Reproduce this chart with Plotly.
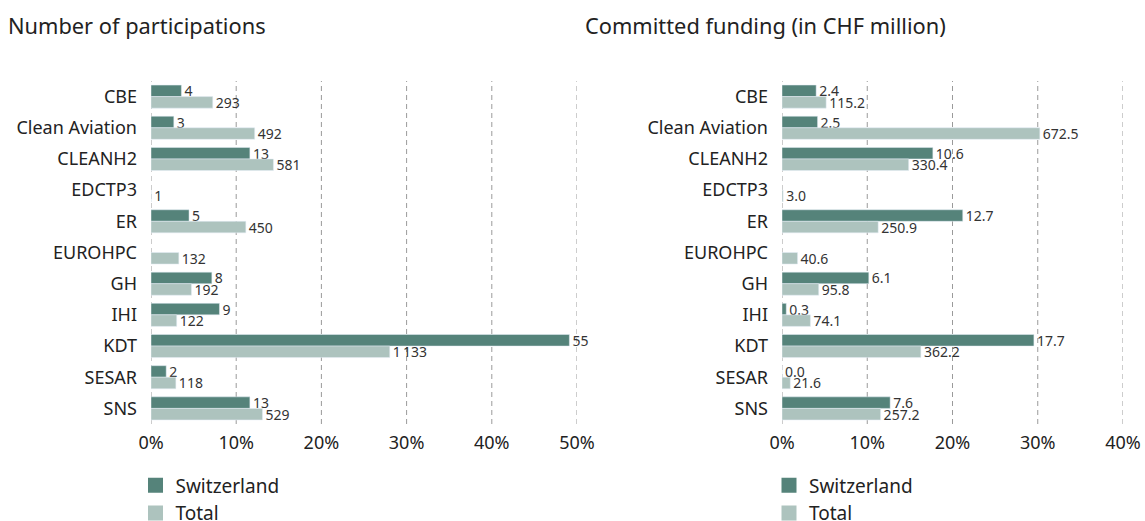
import plotly.graph_objects as go
from plotly.subplots import make_subplots

categories = ["CBE", "Clean Aviation", "CLEANH2", "EDCTP3", "ER", "EUROHPC", "GH", "IHI", "KDT", "SESAR", "SNS"]
participations_ch = [4, 3, 13, None, 5, None, 8, 9, 55, 2, 13]
participations_total = [293, 492, 581, 1, 450, 132, 192, 122, 1133, 118, 529]
funding_ch = [2.4, 2.5, 10.6, None, 12.7, None, 6.1, 0.3, 17.7, 0.0, 7.6]
funding_total = [115.2, 672.5, 330.4, 3.0, 250.9, 40.6, 95.8, 74.1, 362.2, 21.6, 257.2]
grid_ticks_left = [0, 0.1, 0.2, 0.3, 0.4, 0.5]
grid_ticks_right = [0, 0.1, 0.2, 0.3, 0.4]

C_CH = "#55837a"
C_TOT = "#adc3be"
W = 1145
H = 521
PLOT_TOP = 81
PLOT_BOT = 424
FONT = "Noto Sans"


def px(p):
    return p / W


def shares(vals):
    s = sum(v for v in vals if v is not None)
    return [None if v is None else v / s for v in vals]


def fmt_int(v):
    return "" if v is None else f"{v:,}".replace(",", "\u2009")


def fmt_1(v):
    return "" if v is None else f"{v:.1f}"


fig = make_subplots(rows=1, cols=2)

txtfont = dict(family=FONT, size=14, color="#333333")


def bar(x, text, color):
    return go.Bar(y=categories, x=x, orientation="h", marker_color=color,
                  text=text, textposition="outside", textfont=txtfont, cliponaxis=False,
                  constraintext="none", showlegend=False, hoverinfo="skip")


def legend_item(name, color, legend):
    return go.Scatter(x=[None], y=[None], mode="markers", name=name, legend=legend,
                      marker=dict(symbol="square", size=15, color=color), hoverinfo="skip")


fig.add_trace(bar(shares(participations_ch), [fmt_int(v) for v in participations_ch], C_CH), row=1, col=1)
fig.add_trace(bar(shares(participations_total), [fmt_int(v) for v in participations_total], C_TOT), row=1, col=1)
fig.add_trace(bar(shares(funding_ch), [fmt_1(v) for v in funding_ch], C_CH), row=1, col=2)
fig.add_trace(bar(shares(funding_total), [fmt_1(v) for v in funding_total], C_TOT), row=1, col=2)
fig.add_trace(legend_item("Switzerland", C_CH, "legend"), row=1, col=1)
fig.add_trace(legend_item("Total", C_TOT, "legend"), row=1, col=1)
fig.add_trace(legend_item("Switzerland", C_CH, "legend2"), row=1, col=2)
fig.add_trace(legend_item("Total", C_TOT, "legend2"), row=1, col=2)

xcommon = dict(tickformat=".0%", showgrid=False, zeroline=False,
               showline=False, ticks="", ticklabelstandoff=6,
               tickfont=dict(family=FONT, size=18, color="#222222"))
fig.update_xaxes(range=[0, 0.5], domain=[px(151), px(577)], tickvals=grid_ticks_left,
                 row=1, col=1, **xcommon)
fig.update_xaxes(range=[0, 0.4], domain=[px(782), px(1123)], tickvals=grid_ticks_right,
                 row=1, col=2, **xcommon)
fig.update_yaxes(autorange="reversed", showgrid=False, zeroline=False, showline=False, ticks="",
                 ticklabelstandoff=13, automargin=False,
                 tickfont=dict(family=FONT, size=18, color="#222222"))

shapes = []
for xref, ticks in (("x", grid_ticks_left), ("x2", grid_ticks_right)):
    for t in ticks:
        shapes.append(dict(type="line", xref=xref, yref="paper", x0=t, x1=t, y0=0, y1=1,
                           layer="below", line=dict(color="#9a9a9a", width=1, dash="5px,4px")))

ph = PLOT_BOT - PLOT_TOP


def py(p):
    return (PLOT_BOT - p) / ph


legend_common = dict(orientation="v", yanchor="top", xanchor="left", y=py(466.5),
                     font=dict(family=FONT, size=19, color="#222222"),
                     bgcolor="rgba(0,0,0,0)", itemwidth=30, tracegroupgap=0)
fig.update_layout(
    width=W, height=H,
    margin=dict(l=0, r=0, t=PLOT_TOP, b=H - PLOT_BOT, autoexpand=False),
    barmode="group", bargap=0.26, bargroupgap=0,
    plot_bgcolor="white", paper_bgcolor="white",
    font=dict(family=FONT, color="#222222"),
    legend=dict(x=px(135.5), **legend_common),
    legend2=dict(x=px(769), **legend_common),
    shapes=shapes,
    annotations=[
        dict(text="Number of participations", xref="paper", yref="paper", x=px(6), y=py(25),
             xanchor="left", yanchor="middle", showarrow=False,
             font=dict(family=FONT, size=21.8, color="#222222")),
        dict(text="Committed funding (in CHF million)", xref="paper", yref="paper", x=px(583), y=py(25),
             xanchor="left", yanchor="middle", showarrow=False,
             font=dict(family=FONT, size=21.8, color="#222222")),
    ],
)

fig.write_html("out.html", default_width=f"{W}px", default_height=f"{H}px",
               config={"displayModeBar": False},
               post_script="document.body.style.margin='0';document.body.style.overflow='hidden';")
